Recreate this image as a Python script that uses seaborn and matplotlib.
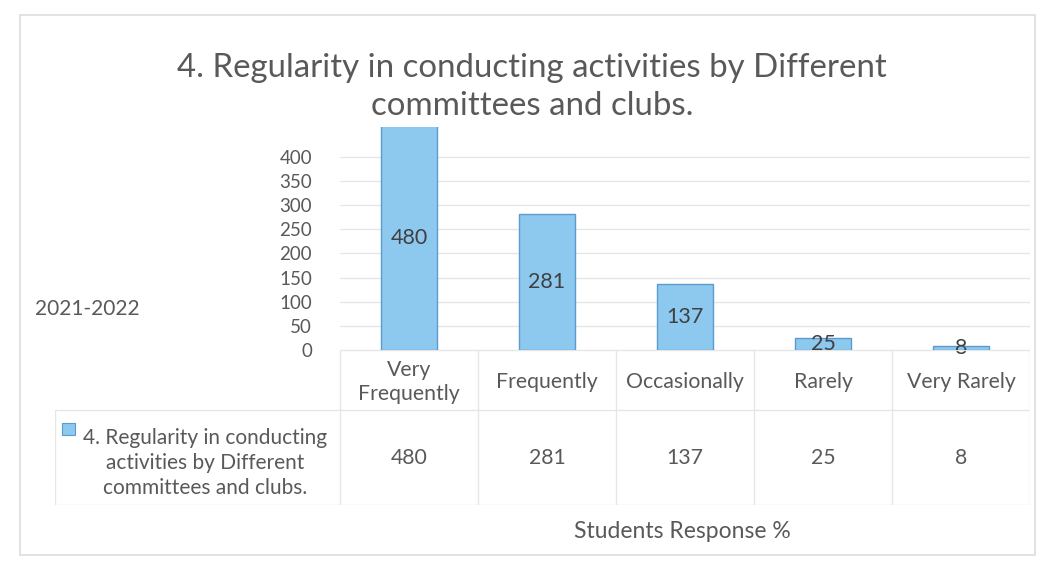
import numpy as np
import pandas as pd
import matplotlib
matplotlib.use('Agg')
import matplotlib.pyplot as plt
import seaborn as sns
from matplotlib.patches import Rectangle

# data
categories = ['Very\nFrequently', 'Frequently', 'Occasionally', 'Rarely', 'Very Rarely']
table_labels = ['Very\nFrequently', 'Frequently', 'Occasionally', 'Rarely', 'Very Rarely']
responses = [480, 281, 137, 25, 8]
series_name = '4. Regularity in conducting activities by Different committees and clubs.'
y_ticks = [0, 50, 100, 150, 200, 250, 300, 350, 400]

sns.set_theme(style='white')
plt.rcParams['font.family'] = ['Lato', 'DejaVu Sans']

text_col = '#595959'
bar_col = '#8DC8EE'
bar_edge = '#5A9BD0'
grid_col = '#E6E6E6'

df = pd.DataFrame({'cat': categories, 'val': responses})

W, H = 1046, 566
fig = plt.figure(figsize=(W / 100, H / 100), dpi=100)

def fx(px):
    return px / W

def fy(py):
    return 1 - py / H

# chart border
fig.patches.append(Rectangle((fx(20), fy(555)), fx(1035) - fx(20), fy(15) - fy(555),
                             transform=fig.transFigure, fill=False,
                             edgecolor='#DDDDDD', linewidth=1.2))

# main bar axes
ax = fig.add_axes([fx(340), fy(350), fx(1030) - fx(340), fy(127) - fy(350)])
sns.barplot(data=df, x='cat', y='val', color=bar_col, width=0.4, ax=ax,
            edgecolor=bar_edge, linewidth=1.0, saturation=1, zorder=3)
ax.set_xlim(-0.5, len(categories) - 0.5)
ax.set_ylim(0, 462)
ax.set_yticks(y_ticks)
ax.tick_params(axis='y', labelsize=13.5, colors=text_col, length=0, pad=20)
ax.set_xticks([])
ax.set_xlabel('')
for t in y_ticks:
    ax.axhline(t, color=grid_col, linewidth=1, zorder=1)
for s in ax.spines.values():
    s.set_visible(False)
ax.set_ylabel('2021-2022', rotation=0, ha='left', va='center', fontsize=15, color=text_col)
ax.yaxis.set_label_coords((35 - 340) / 690, (350 - 309) / (350 - 127))
ax.bar_label(ax.containers[0], labels=[str(v) for v in responses], label_type='center',
             fontsize=15.5, color='#404040')

# data table below the plot
tax = fig.add_axes([fx(55), fy(505), fx(1030) - fx(55), fy(350) - fy(505)])
left_x = -0.5 - (340 - 55) / 138.0
tax.set_xlim(left_x, len(categories) - 0.5)
tax.set_ylim(0, 2)
tax.axis('off')
row_split = (505 - 410) / (505 - 350) * 2
line_kw = dict(color=grid_col, linewidth=1)
tax.plot([-0.5, len(categories) - 0.5], [2, 2], **line_kw)
tax.plot([left_x, len(categories) - 0.5], [row_split, row_split], **line_kw)
tax.plot([left_x, len(categories) - 0.5], [0, 0], **line_kw)
for i in range(len(categories) + 1):
    tax.plot([i - 0.5, i - 0.5], [0, 2], **line_kw)
tax.plot([left_x, left_x], [0, row_split], **line_kw)

for i, (lab, v) in enumerate(zip(table_labels, responses)):
    tax.text(i, (2 + row_split) / 2 - 0.03, lab, ha='center', va='center',
             fontsize=15.3, color=text_col, linespacing=1.25)
    tax.text(i, row_split / 2, str(v), ha='center', va='center',
             fontsize=15.3, color=text_col)

# row header with legend key
fig.text(fx(205), fy(463), '4. Regularity in conducting\nactivities by Different\ncommittees and clubs.',
         ha='center', va='center', fontsize=15, color=text_col, linespacing=1.3)
fig.patches.append(Rectangle((fx(62), fy(435)), fx(75) - fx(62), fy(423) - fy(435),
                             transform=fig.transFigure, facecolor=bar_col,
                             edgecolor=bar_edge, linewidth=0.8))

# titles
fig.text(fx(532), fy(87), '4. Regularity in conducting activities by Different\ncommittees and clubs.',
         ha='center', va='center', fontsize=23.8, color=text_col, linespacing=1.35)
fig.text(fx(682), fy(532), 'Students Response %', ha='center', va='center',
         fontsize=16.5, color=text_col)

fig.savefig('out.png', dpi=100)
